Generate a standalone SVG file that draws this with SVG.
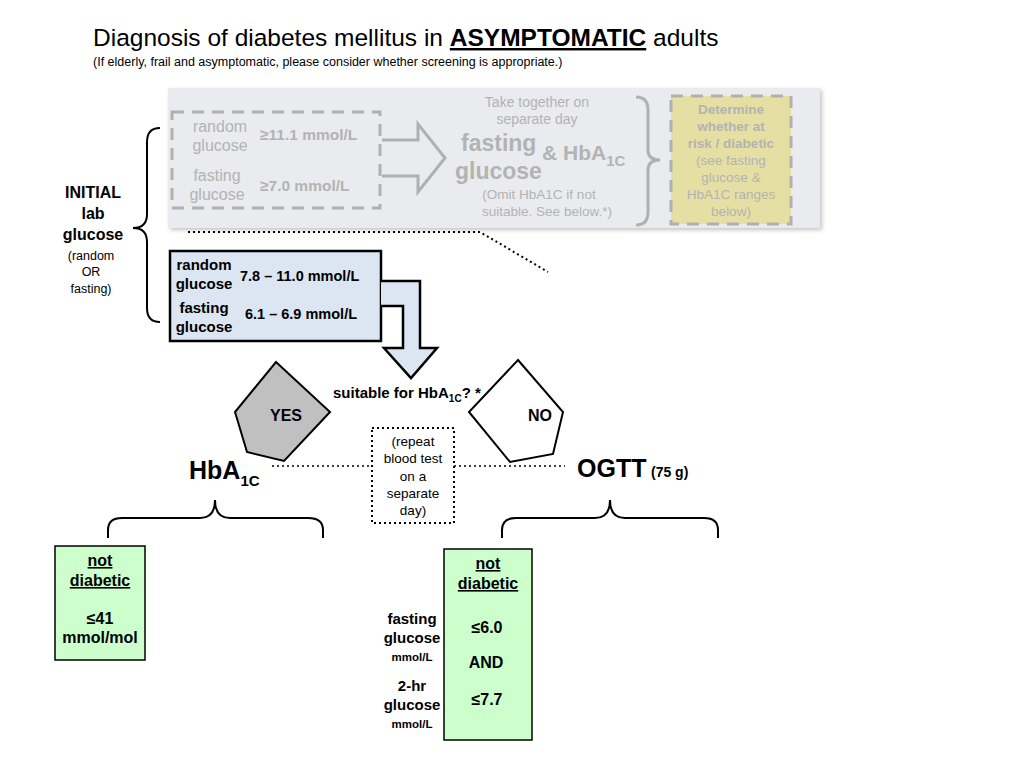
<svg xmlns="http://www.w3.org/2000/svg" width="1024" height="768" viewBox="0 0 1024 768">
<defs>
<style>
text{font-family:"Liberation Sans",Arial,sans-serif}
.b{font-weight:bold}
.g{fill:#b3b3b3}
.gd{fill:none;stroke:#b0b0b0;stroke-width:3;stroke-dasharray:12,8}
.blk{fill:none;stroke:#000;stroke-width:2}
.dot{fill:none;stroke:#000;stroke-width:2;stroke-dasharray:2,3}
</style>
<filter id="sh" x="-5%" y="-5%" width="110%" height="115%"><feDropShadow dx="2" dy="2" stdDeviation="2" flood-color="#999" flood-opacity="0.6"/></filter>
</defs>
<rect width="1024" height="768" fill="#fff"/>
<g id="title">
<text x="93" y="46" font-size="24.5">Diagnosis of diabetes mellitus in <tspan class="b" text-decoration="underline">ASYMPTOMATIC</tspan> adults</text>
<text x="93" y="66" font-size="12.5">(If elderly, frail and asymptomatic, please consider whether screening is appropriate.)</text>
</g>
<g id="panel">
<rect x="168" y="88" width="652" height="140" fill="#e9ebee" filter="url(#sh)"/>
<rect x="172" y="112" width="208" height="96" class="gd"/>
<text class="g" font-size="16" text-anchor="middle"><tspan x="220" y="132">random</tspan><tspan x="220" y="151">glucose</tspan><tspan x="217" y="181">fasting</tspan><tspan x="217" y="200">glucose</tspan></text>
<text class="g b" font-size="15.5" x="260" y="140">≥11.1 mmol/L</text>
<text class="g b" font-size="15.5" x="260" y="191">≥7.0 mmol/L</text>
<path d="M382,140 H418 V124 L445,158 L418,192 V176 H382" fill="none" stroke="#b0b0b0" stroke-width="3"/>
<text class="g" font-size="14" text-anchor="middle"><tspan x="537" y="107">Take together on</tspan><tspan x="537" y="124">separate day</tspan></text>
<text class="g b" font-size="23" x="461" y="151">fasting</text>
<text class="g b" font-size="21" x="542" y="160">&amp; HbA<tspan font-size="15" dy="6">1C</tspan></text>
<text class="g b" font-size="23" x="455" y="179">glucose</text>
<text class="g" font-size="13.5" text-anchor="middle"><tspan x="539" y="199">(Omit HbA1C if not</tspan><tspan x="547" y="216">suitable. See below.*)</tspan></text>
<path d="M636,97 Q648,97 648,110 V150 Q648,160 660,160 Q648,160 648,170 V212 Q648,225 636,225" fill="none" stroke="#b0b0b0" stroke-width="3"/>
<rect x="671" y="96" width="120" height="128" class="gd" style="fill:#e6dfa3"/>
<text class="g" font-size="13.5" text-anchor="middle"><tspan class="b" x="731" y="114">Determine</tspan><tspan class="b" x="731" y="131">whether at</tspan><tspan class="b" x="731" y="148">risk / diabetic</tspan><tspan x="731" y="165">(see fasting</tspan><tspan x="731" y="182">glucose &amp;</tspan><tspan x="731" y="199">HbA1C ranges</tspan><tspan x="731" y="216">below)</tspan></text>
</g>
<g id="initial">
<text font-size="16" class="b" text-anchor="middle"><tspan x="93" y="198">INITIAL</tspan><tspan x="93" y="219">lab</tspan><tspan x="93" y="240">glucose</tspan></text>
<text font-size="12.5" text-anchor="middle"><tspan x="91" y="260">(random</tspan><tspan x="91" y="276">OR</tspan><tspan x="91" y="293">fasting)</tspan></text>
</g>
<g id="bluebox">
<rect x="170" y="251" width="211" height="90" fill="#dce6f2" stroke="#000" stroke-width="2.5"/>
<text class="b" font-size="15" text-anchor="middle"><tspan x="204" y="270">random</tspan><tspan x="204" y="289">glucose</tspan><tspan x="204" y="313">fasting</tspan><tspan x="204" y="332">glucose</tspan></text>
<text class="b" font-size="14.5" x="240" y="281">7.8 – 11.0 mmol/L</text>
<text class="b" font-size="14.5" x="245" y="319">6.1 – 6.9 mmol/L</text>
<path d="M381,281 H420 V348 H437 L411,378 L384,348 H403 V306 H381" fill="#dce6f2" stroke="#000" stroke-width="2.5"/>
</g>
<g id="decision">
<text class="b" font-size="15" x="333" y="398">suitable for HbA<tspan font-size="10" dy="4">1C</tspan><tspan dy="-4">? *</tspan></text>
<polygon points="276,362 330,412 284,461 247,452 235,412" fill="#c0c0c0" stroke="#000" stroke-width="2"/>
<text class="b" font-size="16" x="286" y="421" text-anchor="middle">YES</text>
<polygon points="518,360 563,412 553,454 510,462 469,412" fill="#fff" stroke="#000" stroke-width="2"/>
<text class="b" font-size="16" x="540" y="421" text-anchor="middle">NO</text>
<rect x="372" y="428" width="82" height="95" class="dot"/>
<text font-size="13.5" text-anchor="middle"><tspan x="413" y="446">(repeat</tspan><tspan x="413" y="463">blood test</tspan><tspan x="413" y="481">on a</tspan><tspan x="413" y="498">separate</tspan><tspan x="413" y="515">day)</tspan></text>
<text class="b" font-size="25" x="189" y="479">HbA<tspan font-size="15" dy="7">1C</tspan></text>
<text class="b" font-size="25" x="577" y="477">OGTT</text>
<text class="b" font-size="14" x="651" y="477">(75 g)</text>
</g>
<g id="hba1c-result">
<rect x="55" y="546" width="90" height="114" fill="#ccffcc" stroke="#000" stroke-width="1.5"/>
<text class="b" font-size="16" text-anchor="middle"><tspan x="100" y="566" text-decoration="underline">not</tspan><tspan x="100" y="586" text-decoration="underline">diabetic</tspan><tspan x="100" y="624">≤41</tspan><tspan x="100" y="643">mmol/mol</tspan></text>
</g>
<g id="ogtt-result">
<rect x="444" y="549" width="88" height="191" fill="#ccffcc" stroke="#000" stroke-width="1.5"/>
<text class="b" font-size="16" text-anchor="middle"><tspan x="488" y="569" text-decoration="underline">not</tspan><tspan x="488" y="589" text-decoration="underline">diabetic</tspan><tspan x="487" y="633">≤6.0</tspan><tspan x="486" y="668">AND</tspan><tspan x="487" y="705">≤7.7</tspan></text>
<text class="b" font-size="15" text-anchor="middle"><tspan x="412" y="624">fasting</tspan><tspan x="412" y="643">glucose</tspan><tspan x="412" y="691">2-hr</tspan><tspan x="412" y="710">glucose</tspan></text>
<text class="b" font-size="11.5" text-anchor="middle"><tspan x="412" y="661">mmol/L</tspan><tspan x="412" y="728">mmol/L</tspan></text>
</g>
<g id="connectors">
<path d="M160,128 Q147,128 147,142 V214 Q147,228 133,228 Q147,228 147,242 V308 Q147,322 160,322" class="blk"/>
<path d="M188,232 H480 L548,272" class="dot"/>
<path d="M272,466 H372 M454,466 H565" fill="none" stroke="#000" stroke-width="1.5" stroke-dasharray="2,3"/>
<path d="M108,538 V530 Q108,518 122,518 H200 Q215,518 215,500 Q215,518 230,518 H308 Q323,518 323,530 V538" class="blk"/>
<path d="M502,538 V530 Q502,518 516,518 H595 Q610,518 610,500 Q610,518 625,518 H704 Q718,518 718,530 V538" class="blk"/>
</g>
</svg>
